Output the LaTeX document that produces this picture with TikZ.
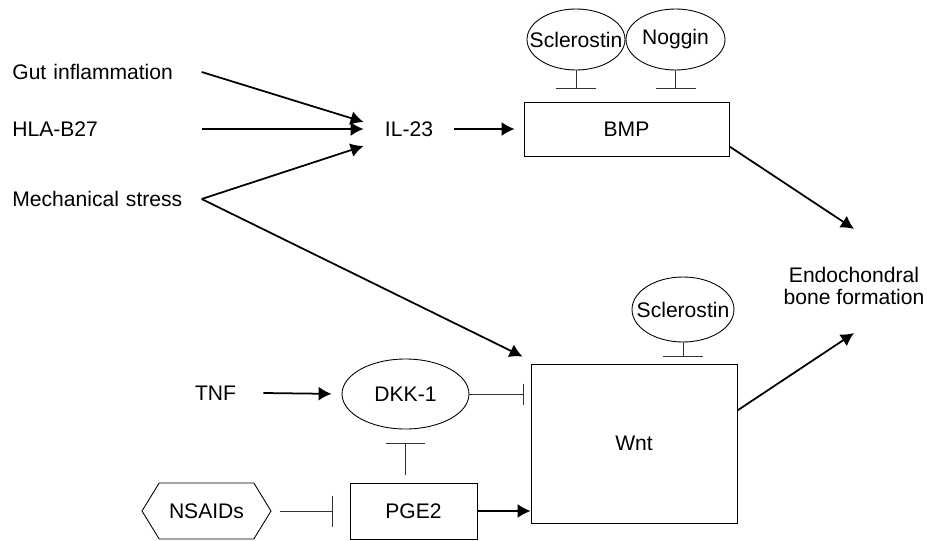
\documentclass[tikz,border=0pt]{standalone}
\usepackage{fontspec}
\setmainfont{Liberation Sans}
\usetikzlibrary{arrows.meta,shapes.geometric,shapes.symbols}

% keeps wide labels from stretching their ellipse
\newcommand{\tightlabel}[1]{\makebox[0pt]{#1}}

\begin{document}
\begin{tikzpicture}[x=0.02cm, y=-0.02cm, font=\fontsize{12}{12.5}\selectfont,
    act/.style={line width=1pt, -{Latex[length=0.26cm,width=0.28cm]}},
    inhib/.style={line width=0.5pt, black!80, -{Bar[width=#1]}},
    inhib/.default=0.8cm,
    box/.style={draw, rectangle, line width=0.5pt, inner sep=0pt},
    blob/.style={draw, ellipse, line width=0.5pt, inner sep=0pt},
    cause/.style={anchor=west, inner sep=0pt, text width=3.78cm, align=left}]
    \useasboundingbox (0,0) rectangle (927,541);

    % Nodes {causes, IL-23, BMP, Wnt, inhibitors}
    \node [cause]                      (gut)   at (12,72)     {Gut inflammation};
    \node [cause]                      (hla)   at (12,129)    {HLA-B27};
    \node [cause]                      (mech)  at (12,199)    {Mechanical stress};
    \node [inner xsep=0.42cm, inner ysep=0pt]
                                       (il23)  at (409,129)   {IL-23};
    \node [box, minimum width=4.1cm, minimum height=1.08cm]
                                       (bmp)   at (626.5,129) {BMP};
    \node [blob, minimum width=1.96cm, minimum height=1.22cm]
                                       (scl1)  at (576,39.5)  {\tightlabel{Sclerostin}};
    \node [blob, minimum width=1.98cm, minimum height=1.22cm]
                                       (nog)   at (675.5,39.5) {\tightlabel{Noggin}};
    \node [align=center, inner sep=0pt] (endo) at (854,286)   {Endochondral\\bone formation};
    \node [box, minimum width=4.12cm, minimum height=3.18cm]
                                       (wnt)   at (634,443.5) {Wnt};
    \node [blob, minimum width=2.04cm, minimum height=1.3cm]
                                       (scl2)  at (683,309.5) {\tightlabel{Sclerostin}};
    \node [blob, minimum width=2.54cm, minimum height=1.4cm]
                                       (dkk)   at (405.5,394) {DKK-1};
    \node [inner xsep=0.54cm, inner ysep=0pt]
                                       (tnf)   at (215.5,393) {TNF};
    \node [box, minimum width=2.54cm, minimum height=1.12cm]
                                       (pge)   at (413.5,511) {PGE2};
    \node [draw, line width=0.5pt, signal, signal to=east and west, signal pointer angle=117,
           minimum width=2.58cm, minimum height=1.12cm, inner sep=0pt]
                                       (nsaid) at (206.5,511) {NSAIDs};

    % Paths
    \path [act]   (gut.east)   edge    ([yshift=0.14cm]il23.west);
    \path [act]   (hla.east)   edge    (il23.west);
    \path [act]   (mech.east)  edge    ([yshift=-0.34cm]il23.west);
    \path [act]   (mech.east)  edge    ([xshift=-0.16cm,yshift=0.14cm]wnt.north west);
    \path [act, shorten >=0.18cm] (il23.east) edge (bmp.west);

    \path [act]   ([yshift=0.2cm]bmp.south east)  edge ([yshift=0.76cm]endo.north);
    \path [act]   ([yshift=2.26cm]wnt.south east) edge ([yshift=-0.56cm]endo.south);

    \path [inhib, shorten >=0.26cm]  (scl1.south) edge (scl1.south |- bmp.north);
    \path [inhib, shorten >=0.26cm]  (nog.south)  edge (nog.south |- bmp.north);
    \path [inhib, shorten >=0.14cm]  (scl2.south) edge (scl2.south |- wnt.north);

    \path [act, shorten >=0.2cm]     (tnf.east)   edge (dkk.west);
    \path [inhib=0.42cm, shorten >=0.14cm] (dkk.east) edge (dkk.east -| wnt.west);
    \path [inhib, shorten <=0.16cm, shorten >=0.28cm] (dkk.south |- pge.north) edge (dkk.south);
    \path [inhib=0.62cm, shorten <=0.16cm, shorten >=0.34cm] (nsaid.east) edge (pge.west);
    \path [act]   (pge.east)   edge    (pge.east -| wnt.west);

\end{tikzpicture}
\end{document}
